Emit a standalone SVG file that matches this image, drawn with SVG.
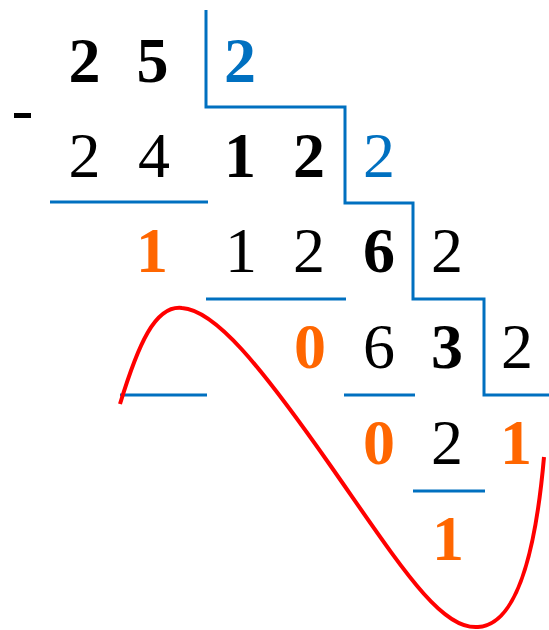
<svg xmlns="http://www.w3.org/2000/svg" width="549" height="630" viewBox="0 0 549 630">
<style>
text{font-family:"Liberation Serif","Times New Roman",serif;font-size:64px;text-anchor:middle}
.b{font-weight:bold}
.k{fill:#000}
.bl{fill:#0070C0}
.o{fill:#FF6600}
.ln{stroke:#0070C0;stroke-width:3;fill:none}
</style>
<rect width="549" height="630" fill="#fff"/>
<g id="lines">
<path class="ln" d="M206,10 V107 H345 V203 H413 V299 H484 V395 H549"/>
<path class="ln" d="M50,202 H208"/>
<path class="ln" d="M206,299 H346"/>
<path class="ln" d="M120,395 H207"/>
<path class="ln" d="M344,395 H415"/>
<path class="ln" d="M413,491 H485"/>
</g>
<g id="curve">
<path d="M120,404 C138,345 155,305 182,308 C215,310 260,365 330,465 C400,565 440,630 478,627 C515,625 535,560 544,457" fill="none" stroke="#FF0000" stroke-width="4"/>
</g>
<g id="minus"><rect x="14" y="113" width="17" height="5" fill="#000"/></g>
<g id="row1">
<text class="b k" x="84.5" y="82">2</text>
<text class="b k" x="152.5" y="82">5</text>
<text class="b bl" x="240" y="82">2</text>
</g>
<g id="row2">
<text class="k" x="84.5" y="177">2</text>
<text class="k" x="154" y="177">4</text>
<text class="b k" x="240" y="177">1</text>
<text class="b k" x="309" y="177">2</text>
<text class="bl" x="379" y="177">2</text>
</g>
<g id="row3">
<text class="b o" x="152" y="272">1</text>
<text class="k" x="241" y="272">1</text>
<text class="k" x="309" y="272">2</text>
<text class="b k" x="379" y="272">6</text>
<text class="k" x="447" y="272">2</text>
</g>
<g id="row4">
<text class="b o" x="310" y="368">0</text>
<text class="k" x="379" y="368">6</text>
<text class="b k" x="447" y="368">3</text>
<text class="k" x="517" y="368">2</text>
</g>
<g id="row5">
<text class="b o" x="379" y="464">0</text>
<text class="k" x="447" y="464">2</text>
<text class="b o" x="516" y="464">1</text>
</g>
<g id="row6">
<text class="b o" x="448" y="560">1</text>
</g>
</svg>
